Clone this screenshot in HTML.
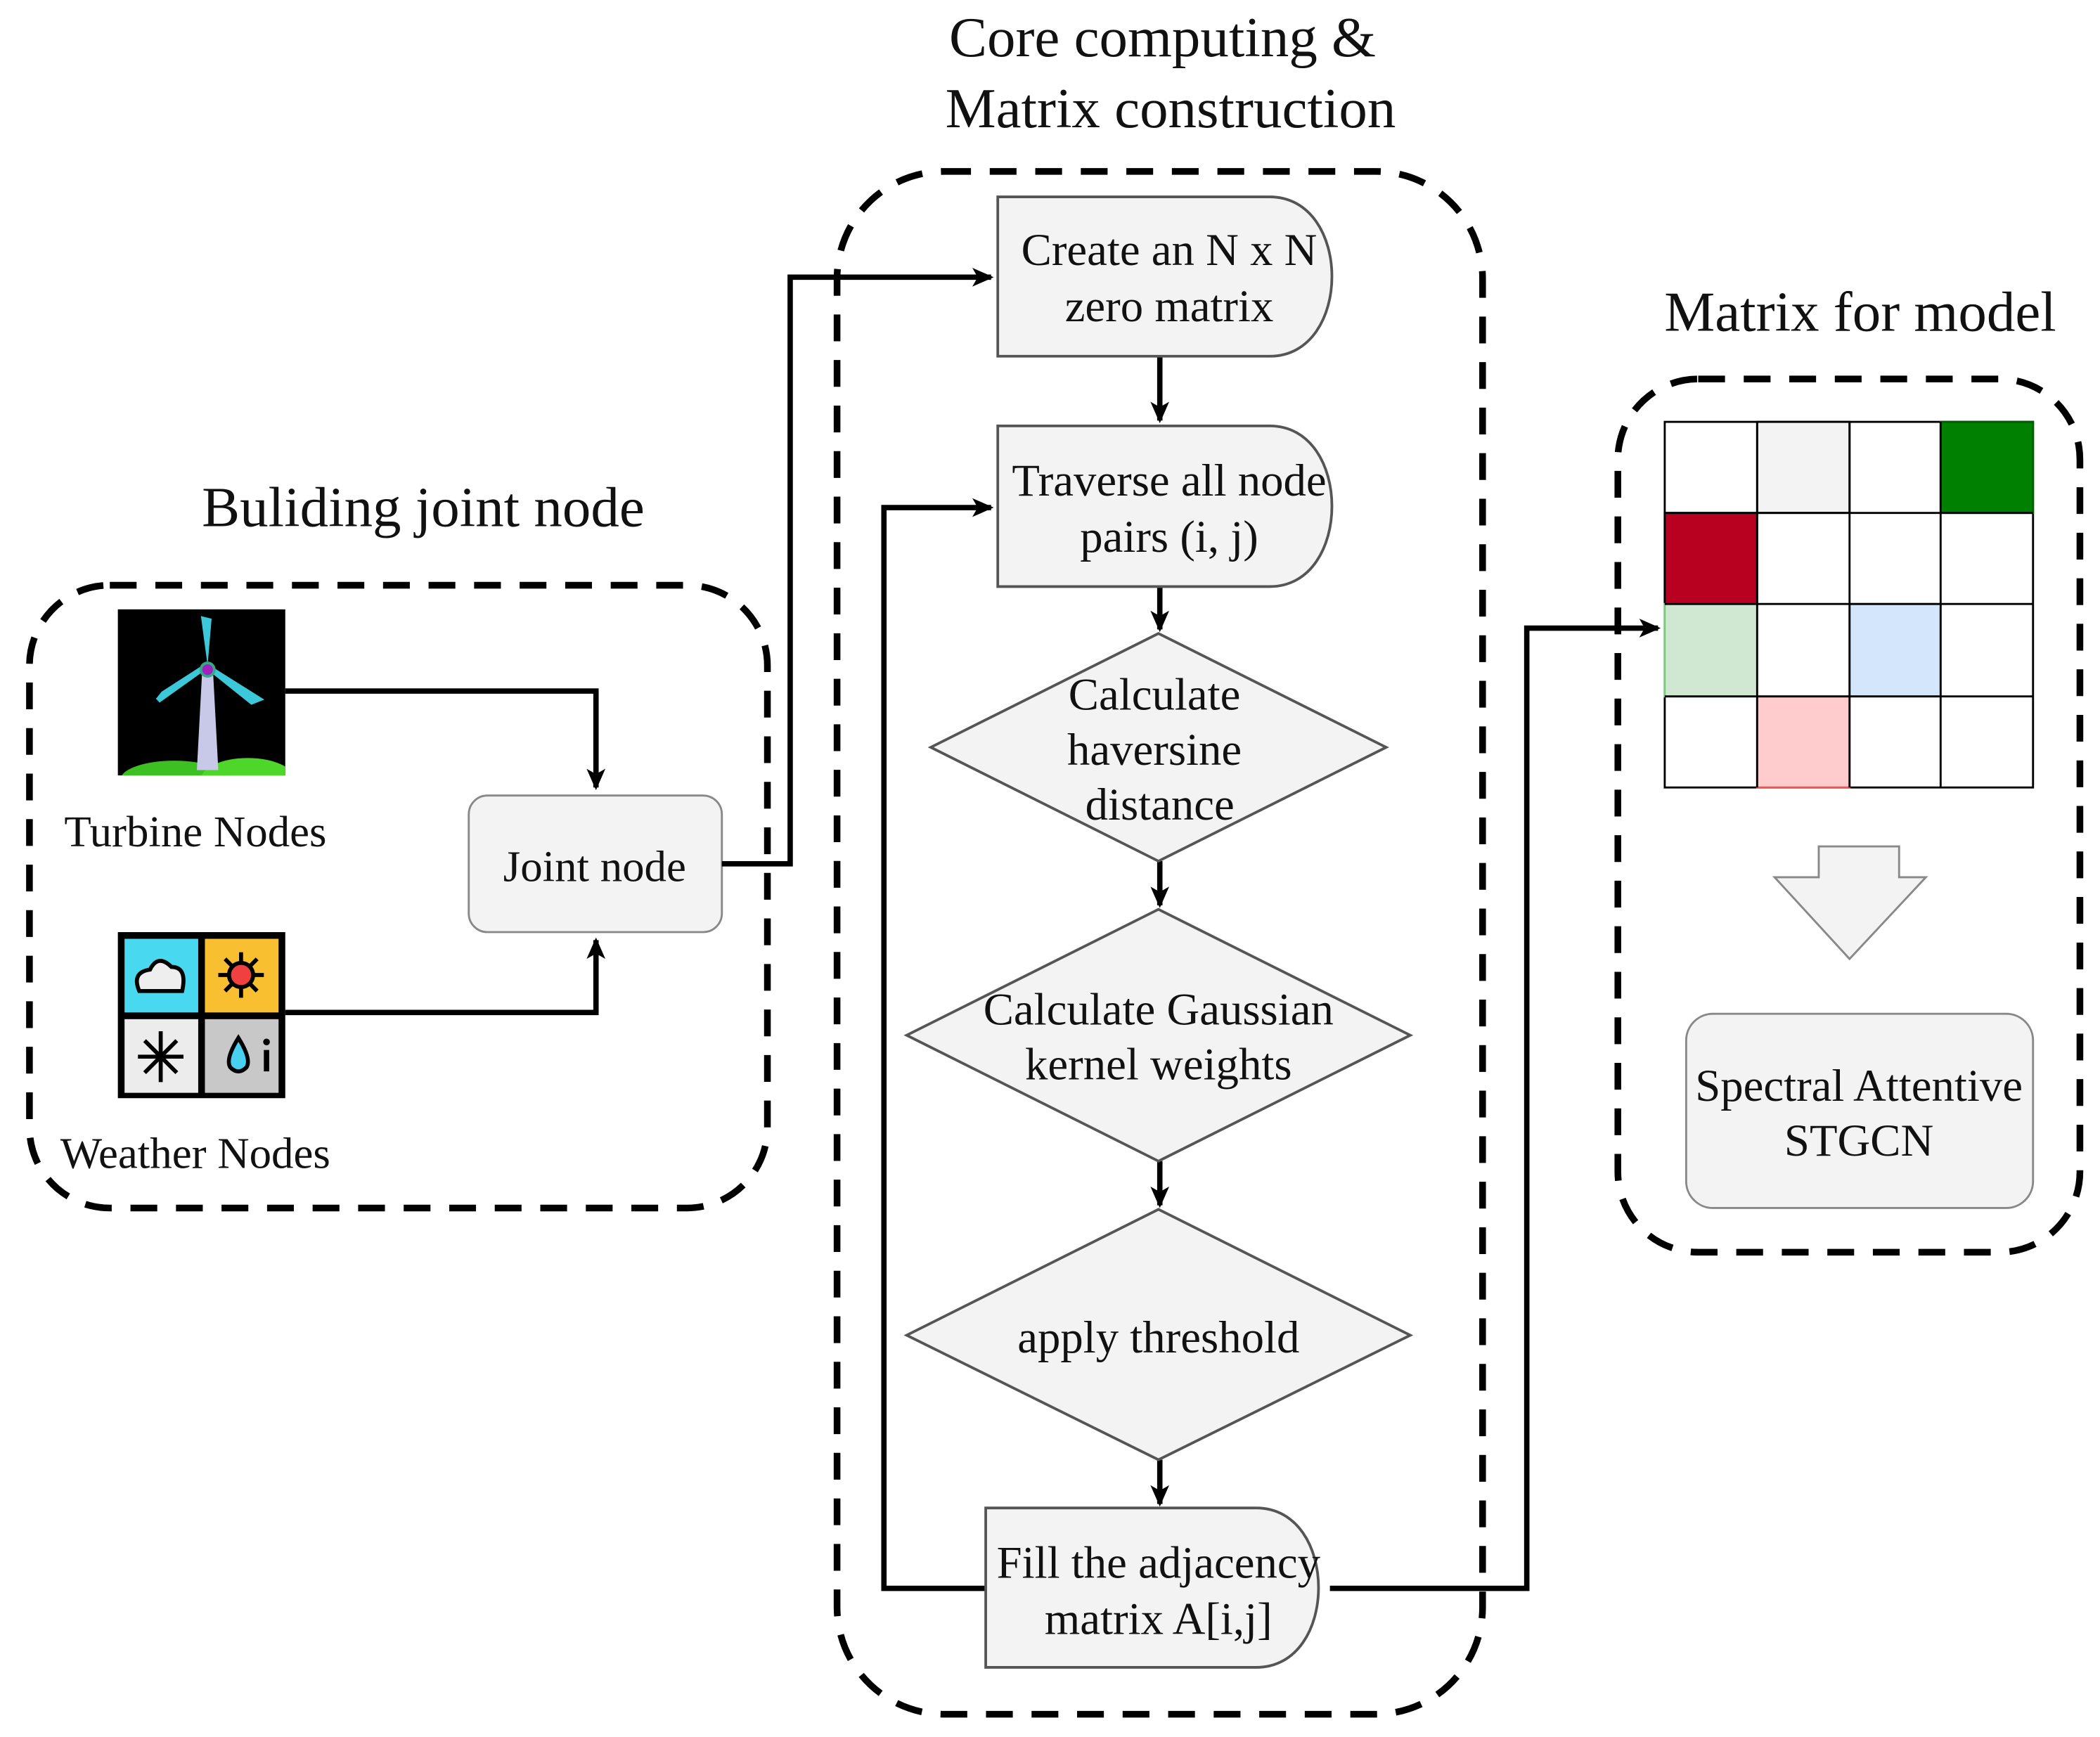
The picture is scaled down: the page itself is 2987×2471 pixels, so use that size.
<!DOCTYPE html>
<html><head><meta charset="utf-8"><style>html,body{margin:0;padding:0;background:#fff}svg{display:block}text{font-family:"Liberation Serif",serif;fill:#111}</style></head>
<body>
<svg width="2987" height="2471" viewBox="0 0 1568 1297" preserveAspectRatio="none" xmlns="http://www.w3.org/2000/svg">
<defs>
<marker id="b" markerWidth="16" markerHeight="16" refX="14" refY="8" orient="auto" markerUnits="userSpaceOnUse"><path d="M0,1 L16,8 L0,15 L4,8 z" fill="#000"/></marker>
<clipPath id="tc"><rect x="88" y="455" width="125" height="124"/></clipPath></defs>
<g font-size="42.5" text-anchor="middle">
<text x="868" y="42" fill="#141434">Core computing &amp;</text>
<text x="874" y="95" fill="#141434">Matrix construction</text>
<text x="316" y="393" fill="#141434">Buliding joint node</text>
<text x="1389" y="247" fill="#141434">Matrix for model</text>
</g>
<g fill="none" stroke="#000" stroke-width="5" stroke-dasharray="20 14">
<rect x="22" y="437" width="551" height="465" rx="60"/>
<rect x="625" y="128" width="482" height="1152" rx="80"/>
<rect x="1208" y="283" width="345" height="652" rx="60"/>
</g>
<!-- turbine icon -->
<rect x="88" y="455" width="125" height="124" fill="#000"/>
<g clip-path="url(#tc)">
<ellipse cx="130" cy="582" rx="40" ry="14" fill="#3cc022"/>
<ellipse cx="185" cy="582" rx="35" ry="16" fill="#4fd62a"/>
</g>
<polygon points="151,500 159,500 163,575 147,575" fill="#c8c8e8"/>
<polygon points="155,497 150,460 158,462" fill="#3cc8d8"/>
<polygon points="153,498 118,523 122,518" fill="#3cc8d8" stroke="#3cc8d8" stroke-width="4"/>
<polygon points="158,500 193,522 188,524" fill="#3cc8d8" stroke="#3cc8d8" stroke-width="4"/>
<circle cx="155" cy="500" r="5" fill="#a020c0" stroke="#3a8" stroke-width="2"/>
<!-- weather icon -->
<rect x="88" y="696" width="125" height="124" fill="#000"/>
<rect x="93" y="701" width="55" height="55" fill="#48d8f0"/>
<rect x="153" y="701" width="55" height="55" fill="#f8c030"/>
<rect x="93" y="761" width="55" height="55" fill="#ececec"/>
<rect x="153" y="761" width="55" height="55" fill="#c8c8c8"/>
<path d="M104,740 q-6,-14 8,-16 q6,-12 16,-2 q12,0 8,18 z" fill="#eee" stroke="#000" stroke-width="3"/>
<g stroke="#000" stroke-width="3"><line x1="180" y1="711" x2="180" y2="745"/><line x1="163" y1="728" x2="197" y2="728"/><line x1="168" y1="716" x2="192" y2="740"/><line x1="192" y1="716" x2="168" y2="740"/></g>
<circle cx="180" cy="728" r="9" fill="#f04040" stroke="#000" stroke-width="3"/>
<g stroke="#000" stroke-width="3"><line x1="120" y1="770" x2="120" y2="808"/><line x1="103" y1="789" x2="137" y2="789"/><line x1="108" y1="777" x2="132" y2="801"/><line x1="132" y1="777" x2="108" y2="801"/></g>
<path d="M178,775 q-10,16 -6,22 q6,6 12,0 q4,-6 -6,-22z" fill="#48d0f0" stroke="#000" stroke-width="3"/>
<rect x="197" y="784" width="4" height="16" fill="#000"/><circle cx="199" cy="778" r="2.5" fill="#000"/>
<g font-size="33">
<text x="48" y="632">Turbine Nodes</text>
<text x="45" y="872">Weather Nodes</text>
</g>
<rect x="350" y="594" width="189" height="102" rx="14" fill="#f3f3f3" stroke="#888" stroke-width="1.5"/>
<text x="444" y="658" font-size="33" text-anchor="middle" fill="#333">Joint node</text>
<g fill="none" stroke="#000" stroke-width="4">
<polyline points="213,516 445,516 445,588" marker-end="url(#b)"/>
<polyline points="213,756 445,756 445,702" marker-end="url(#b)"/>
<polyline points="539,645 590,645 590,207 740,207" marker-end="url(#b)"/>
<polyline points="866,266 866,314" marker-end="url(#b)"/>
<polyline points="866,438 866,470" marker-end="url(#b)"/>
<polyline points="866,643 866,676" marker-end="url(#b)"/>
<polyline points="866,867 866,900" marker-end="url(#b)"/>
<polyline points="866,1090 866,1123" marker-end="url(#b)"/>
<polyline points="736,1186 660,1186 660,379 740,379" marker-end="url(#b)"/>
<polyline points="993,1186 1140,1186 1140,469 1238,469" marker-end="url(#b)"/>
</g>
<g fill="#f3f3f3" stroke="#555" stroke-width="2">
<path d="M745,147 H948 C1010,147 1010,266 948,266 H745 z"/>
<path d="M745,318 H948 C1010,318 1010,438 948,438 H745 z"/>
<polygon points="865,473 1035,558 865,643 695,558"/>
<polygon points="865,679 1053,773 865,867 677,773"/>
<polygon points="865,903 1053,997 865,1090 677,997"/>
<path d="M736,1126 H938 C1000,1126 1000,1245 938,1245 H736 z"/>
</g>
<g font-size="34" text-anchor="middle">
<text x="873" y="198">Create an N x N</text>
<text x="873" y="240">zero matrix</text>
<text x="873" y="370">Traverse all node</text>
<text x="873" y="412">pairs (i, j)</text>
<text x="862" y="530">Calculate</text>
<text x="862" y="571">haversine</text>
<text x="866" y="612">distance</text>
<text x="865" y="765">Calculate Gaussian</text>
<text x="865" y="806">kernel weights</text>
<text x="865" y="1010">apply threshold</text>
<text x="865" y="1178">Fill the adjacency</text>
<text x="865" y="1220">matrix A[i,j]</text>
</g>
<!-- matrix -->
<g stroke="#000" stroke-width="1.5">
<rect x="1243" y="315" width="275" height="273" fill="#fff"/>
<rect x="1312" y="315" width="69" height="68" fill="#f3f3f3"/>
<rect x="1449" y="315" width="69" height="68" fill="#008000" stroke="#006000"/>
<rect x="1243" y="383" width="69" height="68" fill="#b80020"/>
<rect x="1243" y="451" width="69" height="69" fill="#d0e8d2" stroke="#7c7"/>
<rect x="1381" y="451" width="68" height="69" fill="#d4e6fb" stroke="#79c"/>
<rect x="1312" y="520" width="69" height="68" fill="#fecccc" stroke="#e55"/>
<line x1="1312" y1="315" x2="1312" y2="588"/><line x1="1381" y1="315" x2="1381" y2="588"/><line x1="1449" y1="315" x2="1449" y2="588"/>
<line x1="1243" y1="383" x2="1518" y2="383"/><line x1="1243" y1="451" x2="1518" y2="451"/><line x1="1243" y1="520" x2="1518" y2="520"/>
</g>
<polygon points="1358,632 1418,632 1418,655 1438,655 1381,716 1325,655 1358,655" fill="#f3f3f3" stroke="#888" stroke-width="1.5"/>
<rect x="1259" y="757" width="259" height="145" rx="20" fill="#f3f3f3" stroke="#888" stroke-width="1.5"/>
<g font-size="34" text-anchor="middle">
<text x="1388" y="822">Spectral Attentive</text>
<text x="1388" y="863">STGCN</text>
</g>
</svg>
</body></html>
